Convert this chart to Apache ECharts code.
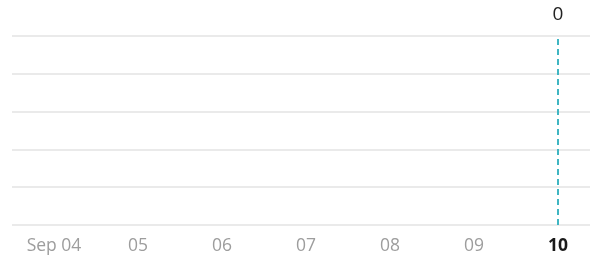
<!DOCTYPE html>
<html><head><meta charset="utf-8">
<script src="https://cdn.jsdelivr.net/npm/echarts@6/dist/echarts.min.js"></script>
<style>html,body{margin:0;padding:0;background:#fff;overflow:hidden;}#c{width:600px;height:259px;}</style>
</head><body><div id="c"></div>
<script>
var categories = ['Sep 04', '05', '06', '07', '08', '09', '10'];
var values = [0, 0, 0, 0, 0, 0, 0];
var selectedIndex = 6;
var yMax = 5;

var chart = echarts.init(document.getElementById('c'), null, {renderer: 'canvas'});
chart.setOption({
  animation: false,
  backgroundColor: '#ffffff',
  grid: {left: 12, right: 0, top: 36, bottom: 34, containLabel: false},
  xAxis: {
    type: 'category',
    data: categories,
    boundaryGap: true,
    axisLine: {show: false},
    axisTick: {show: false},
    axisLabel: {
      margin: 12,
      fontFamily: 'Open Sans',
      fontSize: 17.5,
      color: '#9d9d9d',
      formatter: function (v, i) { return i === selectedIndex ? '{b|' + v + '}' : v; },
      rich: {b: {fontWeight: 'bold', color: '#1a1a1a', fontFamily: 'Open Sans', fontSize: 17.5}}
    }
  },
  yAxis: {
    type: 'value', min: 0, max: yMax, interval: 1,
    axisLabel: {show: false}, axisLine: {show: false}, axisTick: {show: false},
    splitLine: {lineStyle: {color: '#e3e3e3', width: 1.5}}
  },
  series: [{
    type: 'bar',
    data: values,
    itemStyle: {color: '#3fb6c3'},
    markLine: {
      silent: true,
      symbol: 'none',
      lineStyle: {color: '#3fb6c3', type: [6, 4], width: 2},
      label: {
        show: true, position: 'end', distance: 12,
        formatter: String(values[selectedIndex]),
        fontFamily: 'Open Sans', fontSize: 19, color: '#222'
      },
      data: [[{coord: [categories[selectedIndex], 0]}, {coord: [categories[selectedIndex], yMax]}]]
    }
  }]
});
</script></body></html>
